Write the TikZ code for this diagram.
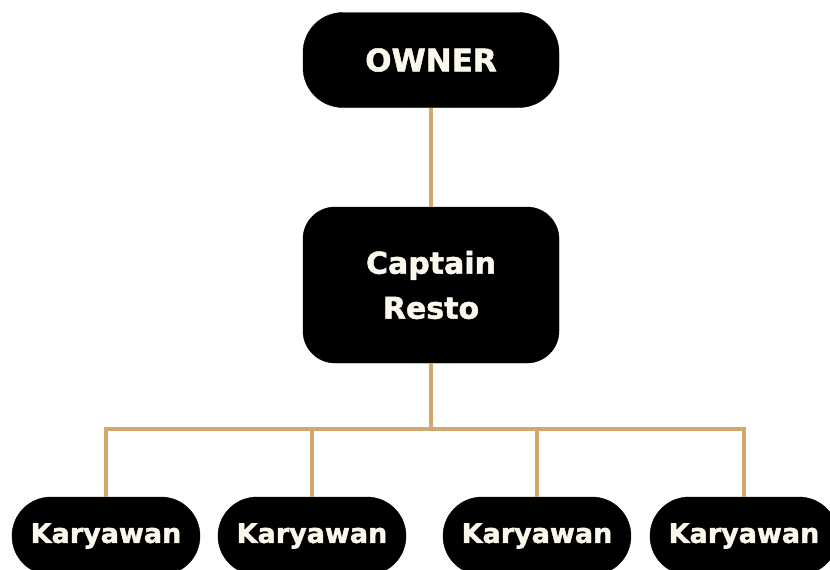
\documentclass[tikz,border=0pt]{standalone}
\usepackage{fontspec}
\newfontfamily\heavyfont{DejaVu Sans Bold}[FakeBold=1.6]
\usetikzlibrary{positioning}
\definecolor{linktan}{RGB}{212,167,110}
\definecolor{cream}{RGB}{250,248,236}
\tikzset{
    basic/.style  = {draw=black, fill=black, text=cream, rectangle, align=center, inner sep=0pt},
    root/.style   = {basic, rounded corners=40pt, minimum width=256pt, minimum height=95pt, font=\heavyfont\fontsize{31}{36}\selectfont},
    captain/.style = {basic, rounded corners=32pt, minimum width=256pt, minimum height=156pt, font=\heavyfont\fontsize{30}{45}\selectfont},
    staff/.style  = {basic, rounded corners=39pt, minimum width=188pt, minimum height=78pt, font=\heavyfont\fontsize{27}{32}\selectfont},
    link/.style   = {draw=linktan, line width=4.5pt}
}
\begin{document}
\begin{tikzpicture}[x=1pt,y=-1pt]
	\useasboundingbox (0,0) rectangle (830,570);
	\clip (0,0) rectangle (830,570);
	% boxes
	\node[root] (owner) at (431,60) {OWNER};
	\node[captain] (capt) at (431,285) {Captain\\Resto};
	\coordinate (bar) at (0,429);
	\node[staff] (k1) at (106,536) {Karyawan};
	\node[staff] (k2) at (312,536) {Karyawan};
	\node[staff] (k3) at (537,536) {Karyawan};
	\node[staff] (k4) at (744,536) {Karyawan};
	% links
	\draw[link] (owner.south) -- (capt.north);
	\draw[link] (capt.south) -- (capt |- bar);
	\draw[link] (k1.north) -- (k1 |- bar) -- (k4 |- bar) -- (k4.north);
	\draw[link] (k2.north) -- (k2 |- bar);
	\draw[link] (k3.north) -- (k3 |- bar);
\end{tikzpicture}
\end{document}
